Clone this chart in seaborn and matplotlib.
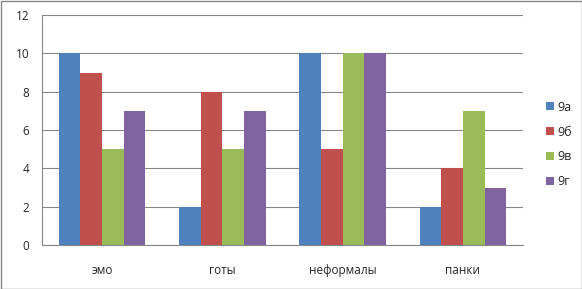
import matplotlib
matplotlib.use("Agg")
import matplotlib.pyplot as plt
import seaborn as sns
import pandas as pd
from matplotlib.patches import Rectangle

categories = ["эмо", "готы", "неформалы", "панки"]
series = ["9а", "9б", "9в", "9г"]
v_9a = [10, 2, 10, 2]
v_9b = [9, 8, 5, 4]
v_9v = [5, 5, 10, 7]
v_9g = [7, 7, 10, 3]
colors = ["#4F81BD", "#C0504D", "#9BBB59", "#8064A2"]

rows = []
for s, vals in zip(series, [v_9a, v_9b, v_9v, v_9g]):
    for c, v in zip(categories, vals):
        rows.append({"cat": c, "series": s, "val": v})
df = pd.DataFrame(rows)

sns.set_style("white")
plt.rcParams['font.family'] = ['Open Sans', 'DejaVu Sans']

fig = plt.figure(figsize=(5.82, 2.89), dpi=100)
ax = fig.add_axes([42/582, 44/289, (523-42)/582, (245-15)/289])

sns.barplot(data=df, x="cat", y="val", hue="series", order=categories,
            hue_order=series, palette=colors, width=0.72, ax=ax,
            saturation=1, edgecolor="none", linewidth=0, legend=True)

ax.set_ylim(0, 12)
ax.set_xlim(-0.5, 3.5)
ax.set_yticks(range(0, 13, 2))
ax.set_xlabel("")
ax.set_ylabel("")
gc = "#868686"
ax.yaxis.grid(True, color=gc, linewidth=0.8)
ax.set_axisbelow(True)
for side in ["top", "right"]:
    ax.spines[side].set_visible(False)
for side in ["left", "bottom"]:
    ax.spines[side].set_color(gc)
    ax.spines[side].set_linewidth(0.8)
ax.tick_params(axis="y", length=4, color=gc, width=0.8, labelsize=8.5, pad=5)
ax.tick_params(axis="x", which="major", length=0, labelsize=8.5, pad=14)
ax.set_xticks([-0.5, 0.5, 1.5, 2.5, 3.5], minor=True)
ax.tick_params(axis="x", which="minor", length=4, color=gc, width=0.8, direction="out")

handles, labels = ax.get_legend_handles_labels()
ax.get_legend().remove()
fig.legend(handles, labels, loc="center left", bbox_to_anchor=(535/582, 0.5),
           frameon=False, fontsize=9, handlelength=0.6, handleheight=0.6,
           handletextpad=0.3, labelspacing=0.95)

fig.add_artist(Rectangle((0.5/582, 0.5/289), 1 - 1/582, 1 - 1/289,
                         transform=fig.transFigure, fill=False,
                         edgecolor=gc, linewidth=1))

fig.savefig("out.png", dpi=100)
